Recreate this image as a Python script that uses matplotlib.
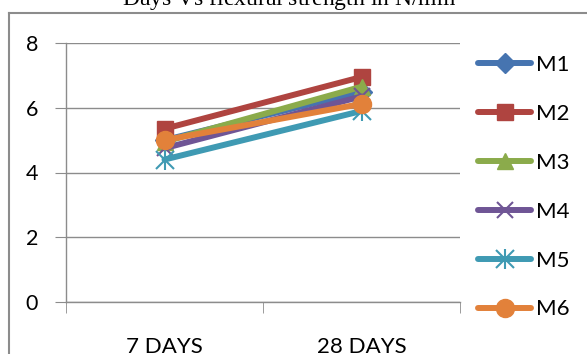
import matplotlib.pyplot as plt
from matplotlib.lines import Line2D

# data
categories = ['7 DAYS', '28 DAYS']
series_names = ['M1', 'M2', 'M3', 'M4', 'M5', 'M6']
m1 = [5.0, 6.5]
m2 = [5.35, 6.95]
m3 = [4.95, 6.65]
m4 = [4.75, 6.35]
m5 = [4.4, 5.9]
m6 = [5.0, 6.12]
y_ticks = [0, 2, 4, 6, 8]

colors = ['#4674B0', '#AF4440', '#8BAB4B', '#6F5595', '#3F9AB3', '#E2813A']
markers = ['D', 's', '^', 'x', '*', 'o']
msizes = [10, 12, 12, 11, 13, 13]

plt.rcParams['font.family'] = ['Lato', 'DejaVu Sans']
plt.rcParams['font.size'] = 15

fig = plt.figure(figsize=(5.87, 3.54), dpi=100)
ax = fig.add_axes([66/587, 1 - 302/354, (460 - 66)/587, (302 - 43)/354])

x = list(range(len(categories)))
for name, vals, c, m, ms in zip(series_names, [m1, m2, m3, m4, m5, m6], colors, markers, msizes):
    if m in ('x', '*'):
        # excel style star / cross: thin marker lines
        ax.plot(x, vals, '-', color=c, linewidth=4.3, solid_capstyle='round', label=name)
        ax.plot(x, vals, linestyle='none', marker='x', color=c, markersize=ms, markeredgewidth=1.5)
        if m == '*':
            ax.plot(x, vals, linestyle='none', marker='|', color=c, markersize=ms + 2, markeredgewidth=1.5)
    else:
        ax.plot(x, vals, '-', color=c, linewidth=4.3, marker=m, markersize=ms,
                markeredgecolor=c, solid_capstyle='round', label=name)

grey = '#8C8C8C'
ax.set_xlim(-0.5, 1.5)
ax.set_ylim(0, 8)
ax.set_yticks(y_ticks)
ax.yaxis.grid(True, color=grey, linewidth=1)
ax.set_axisbelow(True)
for s in ['top', 'right']:
    ax.spines[s].set_visible(False)
for s in ['left', 'bottom']:
    ax.spines[s].set_color(grey)
    ax.spines[s].set_linewidth(1)
ax.tick_params(axis='y', length=8, color=grey, pad=12, labelsize=15.5)
ax.set_xticks(x)
ax.set_xticklabels(categories)
ax.set_xticks([-0.5, 0.5, 1.5], minor=True)
ax.tick_params(axis='x', which='major', length=0, pad=25, labelsize=16)
ax.tick_params(axis='x', which='minor', length=8, color=grey)

# legend with thin cross/star markers
handles = []
for name, c, m, ms in zip(series_names, colors, markers, msizes):
    if m == 'x':
        handles.append(Line2D([], [], color=c, linewidth=4.3, marker='x', markersize=ms,
                              markeredgewidth=1.5, solid_capstyle='round'))
    elif m == '*':
        handles.append((Line2D([], [], color=c, linewidth=4.3, marker='x', markersize=ms,
                               markeredgewidth=1.5, solid_capstyle='round'),
                        Line2D([], [], linestyle='none', color=c, marker='|', markersize=ms + 2,
                               markeredgewidth=1.5)))
    else:
        handles.append(Line2D([], [], color=c, linewidth=4.3, marker=m, markersize=ms,
                              markeredgecolor=c, solid_capstyle='round'))
fig.legend(handles, series_names, loc='upper left', bbox_to_anchor=(478/587, 1 - 55/354),
           frameon=False, handlelength=2.4, handletextpad=0.2, labelspacing=1.3,
           borderaxespad=0, borderpad=0, fontsize=16)

# chart border (only left and top visible in the crop)
fig.add_artist(Line2D([9/587, 9/587], [0, 1 - 13/354], color=grey, linewidth=1.5))
fig.add_artist(Line2D([9/587, 1], [1 - 13/354, 1 - 13/354], color=grey, linewidth=1.5))

fig.text(0.5, 1 - 7/354, 'Days Vs flexural strength in N/mm$^2$', ha='center', va='baseline',
         fontsize=17, family=['Liberation Serif', 'DejaVu Serif'])

fig.savefig('out.png', dpi=100)
